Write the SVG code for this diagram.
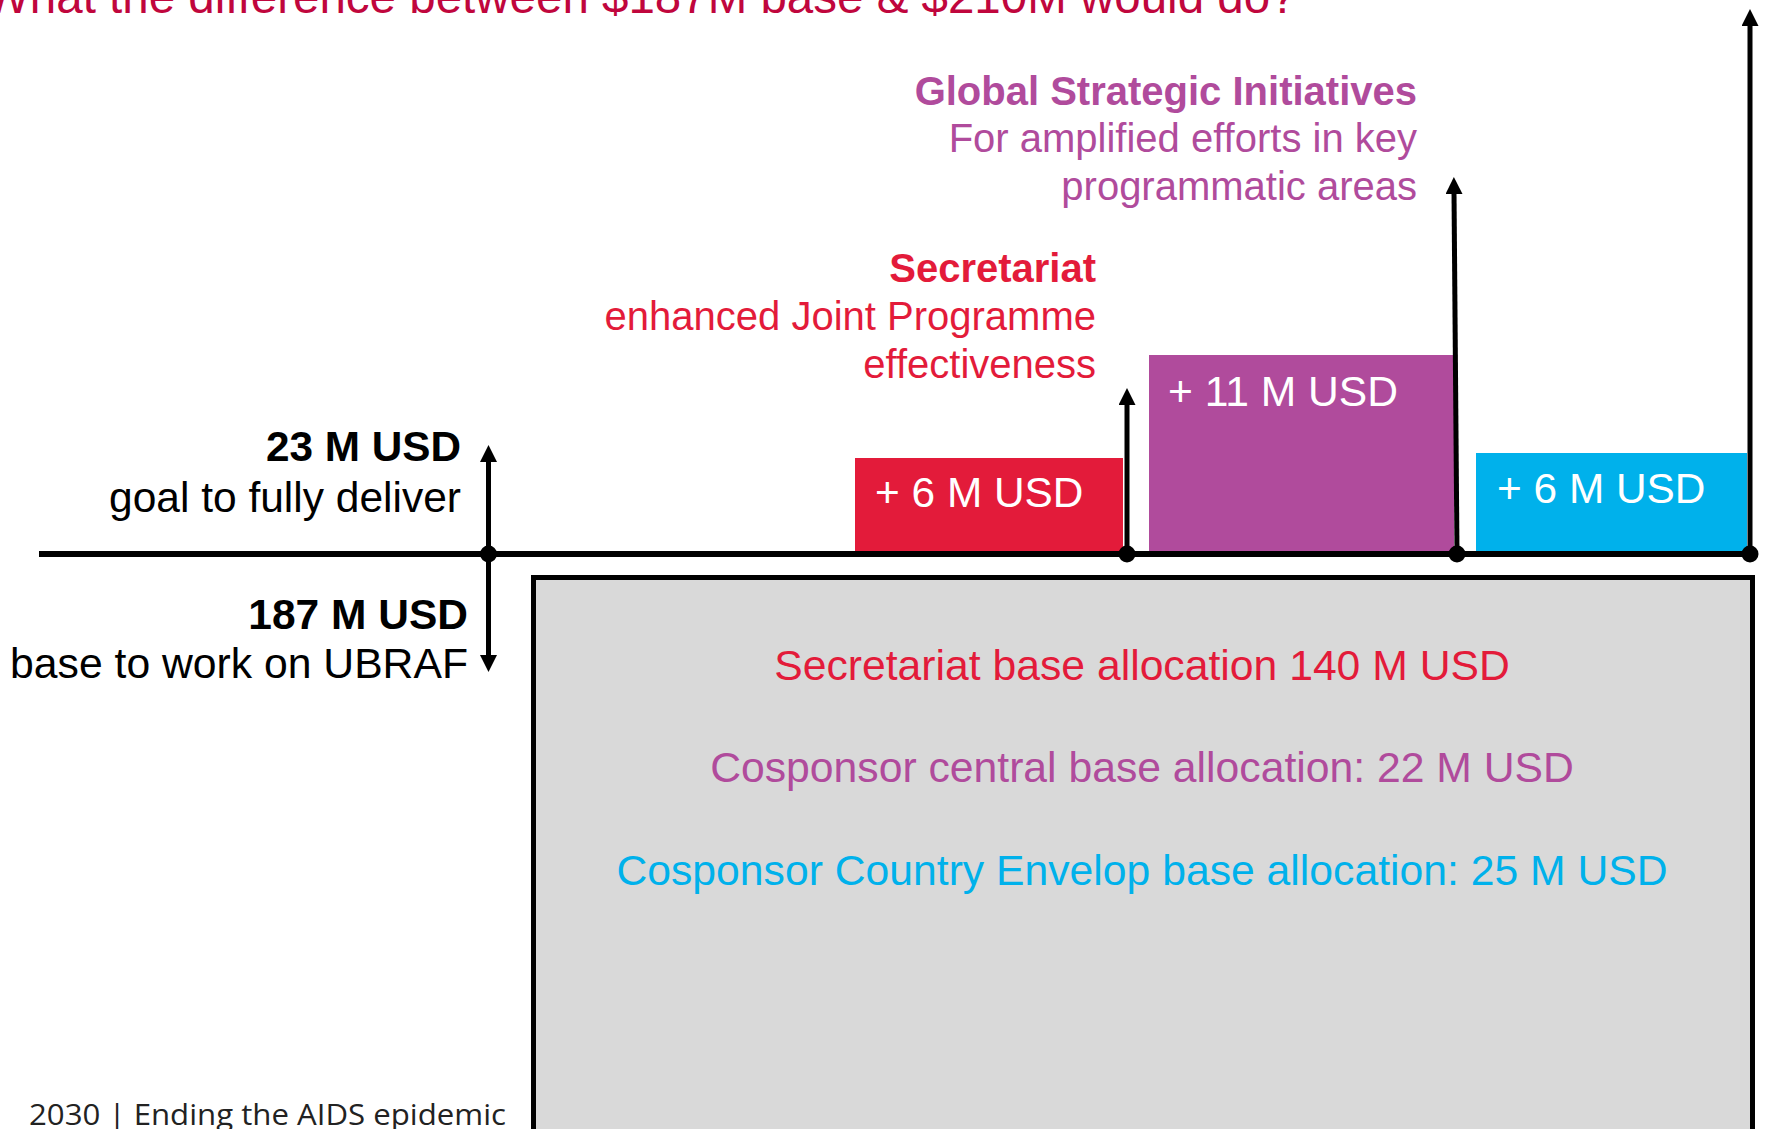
<svg xmlns="http://www.w3.org/2000/svg" width="1765" height="1129" viewBox="0 0 1765 1129">
  <style>
    text { font-family: "Liberation Sans", Arial, sans-serif; }
    .b { font-weight: bold; }
    .k { fill: #000000; }
    .red { fill: #e31b3a; }
    .pur { fill: #b04b9c; }
    .blu { fill: #00b1eb; }
    .wht { fill: #ffffff; }
    .ln { stroke: #000000; stroke-width: 5; fill: none; }
  </style>
  <defs>
    <marker id="ah" viewBox="0 0 17 17" markerWidth="17" markerHeight="17" refX="2" refY="8.5" orient="auto-start-reverse" markerUnits="userSpaceOnUse">
      <path d="M0,0 L17,8.5 L0,17 z" fill="#000000"/>
    </marker>
  </defs>
  <rect width="1765" height="1129" fill="#ffffff"/>

  <g id="title">
    <text x="-15" y="13" font-size="47.5" fill="#c0063d">What the difference between $187M base &amp; $210M would do?</text>
  </g>

  <g id="base-box">
    <rect x="533.5" y="577.5" width="1219" height="600" fill="#d9d9d9" stroke="#000000" stroke-width="5"/>
    <text x="1142" y="680" font-size="42.7" text-anchor="middle" class="red">Secretariat base allocation 140 M USD</text>
    <text x="1142" y="782" font-size="42.7" text-anchor="middle" class="pur">Cosponsor central base allocation: 22 M USD</text>
    <text x="1142" y="885" font-size="42.7" text-anchor="middle" class="blu">Cosponsor Country Envelop base allocation: 25 M USD</text>
  </g>

  <g id="box-secretariat">
    <rect x="855" y="458" width="268" height="96" fill="#e31b3a"/>
    <text x="875" y="507" font-size="42.4" class="wht">+ 6 M USD</text>
  </g>
  <g id="box-gsi">
    <rect x="1149" y="355" width="305" height="199" fill="#b04b9c"/>
    <text x="1168" y="406" font-size="42.6" class="wht">+ 11 M USD</text>
  </g>
  <g id="box-country">
    <rect x="1476" y="453" width="271" height="101" fill="#00b1eb"/>
    <text x="1497" y="503" font-size="42.4" class="wht">+ 6 M USD</text>
  </g>

  <g id="label-goal">
    <text x="461" y="461" font-size="42.3" text-anchor="end" class="k b">23 M USD</text>
    <text x="461" y="512" font-size="42.5" text-anchor="end" class="k">goal to fully deliver</text>
  </g>
  <g id="label-base">
    <text x="468" y="629" font-size="42.5" text-anchor="end" class="k b">187 M USD</text>
    <text x="468" y="678" font-size="42.7" text-anchor="end" class="k">base to work on UBRAF</text>
  </g>

  <g id="label-secretariat">
    <text x="1096" y="282" font-size="40" text-anchor="end" class="red b">Secretariat</text>
    <text x="1096" y="330" font-size="40" text-anchor="end" class="red">enhanced Joint Programme</text>
    <text x="1096" y="378" font-size="40" text-anchor="end" class="red">effectiveness</text>
  </g>
  <g id="label-gsi">
    <text x="1417" y="105" font-size="40" text-anchor="end" class="pur b">Global Strategic Initiatives</text>
    <text x="1417" y="152" font-size="40" text-anchor="end" class="pur">For amplified efforts in key</text>
    <text x="1417" y="200" font-size="40" text-anchor="end" class="pur">programmatic areas</text>
  </g>

  <g id="footer">
    <text x="29" y="1125" font-size="29" textLength="477" lengthAdjust="spacingAndGlyphs" fill="#222222" style="font-family: 'Open Sans', 'Noto Sans', sans-serif;">2030 | Ending the AIDS epidemic</text>
  </g>

  <g id="connectors">
    <line x1="39" y1="554" x2="1750" y2="554" stroke="#000000" stroke-width="6"/>
    <line class="ln" x1="488.5" y1="460" x2="488.5" y2="657" marker-start="url(#ah)" marker-end="url(#ah)"/>
    <line class="ln" x1="1127" y1="554" x2="1127" y2="403" marker-end="url(#ah)"/>
    <line class="ln" x1="1457" y1="554" x2="1454" y2="192" marker-end="url(#ah)"/>
    <line class="ln" x1="1750" y1="554" x2="1750" y2="24" marker-end="url(#ah)"/>
    <circle cx="488.5" cy="554" r="8.5" fill="#000000"/>
    <circle cx="1127" cy="554" r="8.5" fill="#000000"/>
    <circle cx="1457" cy="554" r="8.5" fill="#000000"/>
    <circle cx="1750" cy="554" r="8.5" fill="#000000"/>
  </g>
</svg>
